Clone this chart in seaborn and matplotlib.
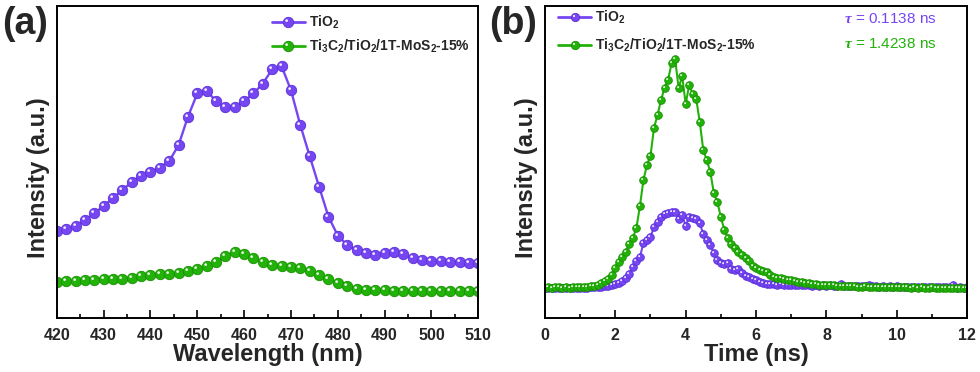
import matplotlib
matplotlib.use('Agg')
import matplotlib.pyplot as plt
import seaborn as sns
import numpy as np
from matplotlib.path import Path
from matplotlib.lines import Line2D
from matplotlib.ticker import MultipleLocator

# ---------------------------------------------------------------------------
# Data (intensity in arbitrary units)
# ---------------------------------------------------------------------------
wavelength = np.arange(420, 511, 2)

pl_tio2 = [87.3, 89.0, 92.3, 98.3, 105.0, 112.3, 120.0, 128.3, 136.3, 142.7,
           146.7, 150.7, 157.3, 173.3, 201.7, 225.0, 227.7, 217.3, 211.0, 211.7,
           217.3, 225.0, 235.0, 249.3, 252.3, 228.3, 193.3, 162.3, 131.7, 101.7,
           82.7, 73.3, 68.3, 65.0, 63.3, 65.0, 66.0, 64.3, 60.0, 58.3,
           57.3, 56.7, 56.3, 56.0, 55.0, 55.0]

pl_composite = [35.7, 36.7, 37.3, 37.7, 38.3, 39.0, 39.0, 39.3, 40.0, 41.7,
                43.3, 44.0, 44.3, 45.0, 46.7, 49.0, 51.7, 55.7, 62.3, 66.0,
                64.3, 60.0, 55.7, 53.3, 51.7, 51.0, 50.0, 46.7, 43.3, 39.3,
                35.0, 31.7, 29.0, 28.3, 27.7, 27.7, 27.3, 27.3, 27.3, 27.3,
                27.3, 27.3, 27.0, 27.0, 27.0, 27.0]

time_ns = np.round(np.arange(0, 12.05, 0.1), 1)

trpl_tio2 = [30.0, 30.3, 29.9, 30.2, 30.0, 30.3, 29.8, 30.1, 30.0, 30.2,
             30.1, 30.3, 30.4, 30.6, 30.8, 31.2, 31.5, 32.0, 32.5, 33.0,
             34.0, 35.5, 37.0, 40.0, 44.5, 51.0, 57.0, 61.0, 75.0, 78.0,
             81.0, 91.0, 96.0, 101.0, 104.0, 105.0, 106.0, 106.5, 99.0, 103.0,
             92.0, 101.0, 100.0, 99.5, 95.0, 84.0, 78.0, 73.0, 65.0, 58.0,
             55.0, 54.0, 54.7, 49.0, 48.0, 49.5, 45.0, 42.5, 41.0, 39.5,
             38.0, 36.5, 35.0, 34.5, 34.0, 33.8, 33.5, 33.6, 33.2, 33.4,
             33.0, 33.3, 32.8, 33.1, 32.7, 33.0, 32.5, 32.9, 32.4, 32.7,
             32.3, 32.6, 32.2, 32.5, 34.0, 32.2, 32.0, 32.3, 31.9, 32.1,
             31.8, 32.0, 32.9, 31.7, 31.9, 31.5, 31.8, 31.4, 31.7, 31.3,
             31.6, 31.2, 31.5, 31.1, 31.4, 31.0, 31.3, 30.9, 31.2, 30.8,
             31.1, 30.8, 31.0, 30.7, 30.9, 30.6, 33.0, 30.5, 30.8, 30.5,
             30.6]

trpl_composite = [30.5, 30.8, 30.4, 30.6, 30.9, 30.5, 30.7, 30.4, 30.8, 30.6,
                  30.9, 31.0, 31.3, 31.6, 32.2, 33.5, 35.0, 37.0, 39.5, 43.0,
                  50.0, 56.0, 61.0, 66.0, 74.0, 80.0, 90.0, 112.0, 138.0, 153.0,
                  162.0, 190.0, 203.0, 218.0, 230.0, 238.0, 255.0, 259.0, 230.0, 242.0,
                  214.0, 233.0, 224.0, 219.0, 196.0, 168.0, 158.0, 146.0, 125.0, 116.0,
                  101.0, 88.0, 80.0, 74.0, 70.0, 66.0, 63.0, 60.5, 57.0, 52.0,
                  50.0, 48.0, 47.0, 46.0, 43.0, 41.5, 40.5, 39.7, 39.0, 38.5,
                  38.0, 37.0, 36.5, 36.2, 35.4, 34.7, 34.5, 34.0, 33.4, 33.2,
                  33.0, 32.6, 32.9, 32.3, 32.5, 32.0, 32.3, 31.8, 31.9, 31.5,
                  31.4, 31.7, 31.2, 31.5, 31.0, 31.3, 30.9, 31.2, 30.8, 31.0,
                  30.7, 31.0, 30.6, 30.9, 30.5, 30.8, 30.4, 30.7, 30.5, 30.3,
                  30.6, 30.2, 30.5, 30.1, 30.4, 30.0, 30.3, 30.1, 29.9, 30.2,
                  30.0]

labels = ['TiO$_\\mathregular{2}$',
          'Ti$_\\mathregular{3}$C$_\\mathregular{2}$/TiO$_\\mathregular{2}$/1T-MoS$_\\mathregular{2}$-15%']
lifetimes = ['0.1138', '1.4238']

PURPLE = '#7646F2'
PURPLE_EDGE = '#5A30D8'
GREEN = '#22B20A'
GREEN_EDGE = '#189000'

# ---------------------------------------------------------------------------
# Style
# ---------------------------------------------------------------------------
sns.set_theme(style='ticks')
plt.rcParams['font.family'] = ['Liberation Sans', 'DejaVu Sans']
plt.rcParams['font.weight'] = 'bold'
plt.rcParams['mathtext.fontset'] = 'custom'
plt.rcParams['mathtext.it'] = 'Liberation Serif:italic'
plt.rcParams['mathtext.rm'] = 'Liberation Sans'

# small white spot drawn on each ball to mimic the shaded sphere markers;
# the two lone MOVETO points keep matplotlib from rescaling the spot
_spot = Path.circle((-0.18, 0.18), 0.13)
HIGHLIGHT = Path(np.vstack([_spot.vertices, [[0.5, 0.5], [-0.5, -0.5]]]),
                 np.concatenate([_spot.codes, [Path.MOVETO, Path.MOVETO]]))


def draw_balls(ax, x, y, color, edge, ms, lw):
    sns.lineplot(x=x, y=y, ax=ax, color=color, lw=lw, marker='o', markersize=ms,
                 markeredgecolor=edge, markeredgewidth=0.6, estimator=None)
    ax.plot(x, y, ls='none', marker=HIGHLIGHT, ms=ms, color='white', alpha=0.9,
            markeredgewidth=0)


def legend_handle(color, edge, ms, lw):
    ball = Line2D([], [], color=color, lw=lw, marker='o', ms=ms,
                  mec=edge, mew=0.6)
    spot = Line2D([], [], ls='none', marker=HIGHLIGHT, ms=ms, color='white',
                  alpha=0.9, mew=0)
    return (ball, spot)


def style_axes(ax):
    for side in ['top', 'bottom', 'left', 'right']:
        ax.spines[side].set_visible(True)
        ax.spines[side].set_linewidth(1.4)
        ax.spines[side].set_color('black')
    ax.set_yticks([])
    ax.tick_params(axis='x', which='major', direction='in', length=6, width=1.2,
                   labelsize=11.5, pad=7, color='black')
    ax.tick_params(axis='x', which='minor', direction='in', length=3, width=1.2,
                   color='black')
    for lab in ax.get_xticklabels():
        lab.set_fontweight('bold')


fig = plt.figure(figsize=(9.8, 3.72), dpi=100)
ax_a = fig.add_axes([0.058, 0.145, 0.430, 0.839])
ax_b = fig.add_axes([0.556, 0.145, 0.431, 0.839])

# ---------------------------------------------------------------------------
# (a) steady-state PL
# ---------------------------------------------------------------------------
draw_balls(ax_a, wavelength, pl_tio2, PURPLE, PURPLE_EDGE, 7.5, 1.7)
draw_balls(ax_a, wavelength, pl_composite, GREEN, GREEN_EDGE, 7.5, 1.7)
ax_a.set_xlim(420, 510)
ax_a.set_ylim(0, 312.7)
ax_a.xaxis.set_major_locator(MultipleLocator(10))
ax_a.xaxis.set_minor_locator(MultipleLocator(5))
style_axes(ax_a)
ax_a.set_xlabel('Wavelength (nm)', fontsize=17, fontweight='bold', labelpad=0)
ax_a.set_ylabel('Intensity (a.u.)', fontsize=17, fontweight='bold')
ax_a.yaxis.set_label_coords(-0.017, 0.45)
ax_a.legend([legend_handle(PURPLE, PURPLE_EDGE, 7.5, 2), legend_handle(GREEN, GREEN_EDGE, 7.5, 2)],
            labels, loc='upper left', bbox_to_anchor=(0.51, 0.975), frameon=False,
            prop={'size': 10, 'weight': 'bold'}, handlelength=2.4,
            handletextpad=0.3, labelspacing=0.52, borderpad=0, borderaxespad=0,
            numpoints=1)

# ---------------------------------------------------------------------------
# (b) time-resolved PL
# ---------------------------------------------------------------------------
draw_balls(ax_b, time_ns, trpl_tio2, PURPLE, PURPLE_EDGE, 5.5, 1.5)
draw_balls(ax_b, time_ns, trpl_composite, GREEN, GREEN_EDGE, 5.5, 1.5)
ax_b.set_xlim(0, 12)
ax_b.set_ylim(0, 312)
ax_b.xaxis.set_major_locator(MultipleLocator(2))
ax_b.xaxis.set_minor_locator(MultipleLocator(1))
style_axes(ax_b)
ax_b.set_xlabel('Time (ns)', fontsize=17, fontweight='bold', labelpad=0)
ax_b.set_ylabel('Intensity (a.u.)', fontsize=17, fontweight='bold')
ax_b.yaxis.set_label_coords(-0.017, 0.45)
ax_b.legend([legend_handle(PURPLE, PURPLE_EDGE, 6, 2), legend_handle(GREEN, GREEN_EDGE, 6, 2)],
            labels, loc='upper left', bbox_to_anchor=(0.031, 0.99), frameon=False,
            prop={'size': 10, 'weight': 'bold'}, handlelength=2.4,
            handletextpad=0.3, labelspacing=0.75, borderpad=0, borderaxespad=0,
            numpoints=1)
for tau, color, ypos in zip(lifetimes, [PURPLE, GREEN], [0.958, 0.878]):
    ax_b.text(0.709, ypos, '$\\tau$ = ' + tau + ' ns', transform=ax_b.transAxes,
              color=color, fontsize=11, fontweight='normal', va='center', ha='left')

# panel tags
fig.text(0.002, 0.935, '(a)', fontsize=27, fontweight='bold', va='center', ha='left')
fig.text(0.499, 0.935, '(b)', fontsize=27, fontweight='bold', va='center', ha='left')

fig.savefig('out.png', dpi=100)
